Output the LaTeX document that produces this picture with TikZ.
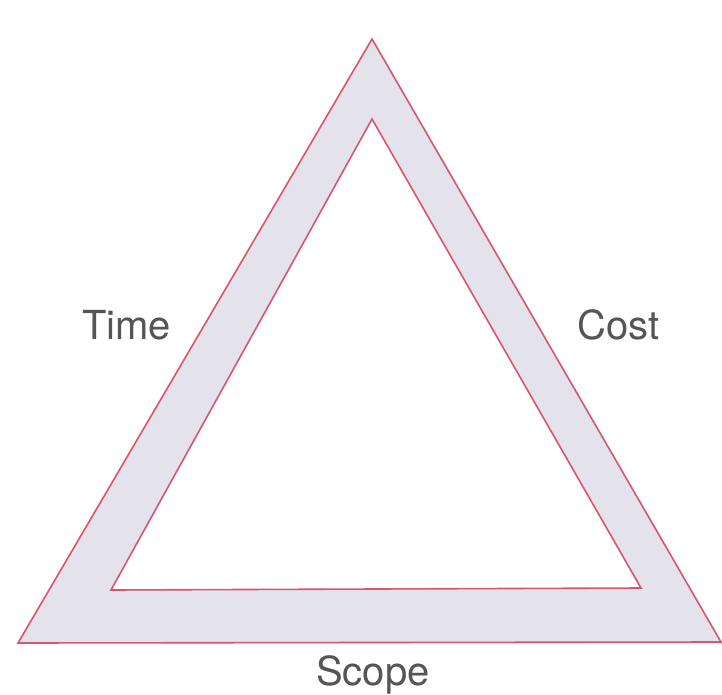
\documentclass[tikz,border=0pt]{standalone}
\usepackage{fontspec}
\setmainfont{TeX Gyre Heros}
\definecolor{band}{HTML}{E4E3EC}
\definecolor{edge}{HTML}{D9546E}
\definecolor{txt}{HTML}{555555}
\begin{document}
\begin{tikzpicture}[x=1pt,y=-1pt,
  lbl/.style={text=txt,font=\fontsize{40}{44}\selectfont,inner sep=0pt}]
\useasboundingbox (0,0) rectangle (722,695);
\coordinate (oa) at (372,39);
\coordinate (ol) at (18,643);
\coordinate (or) at (721,642);
\coordinate (ia) at (372,119);
\coordinate (il) at (111,590);
\coordinate (ir) at (641,588);
\fill[band,even odd rule] (oa) -- (ol) -- (or) -- cycle (ia) -- (il) -- (ir) -- cycle;
\draw[edge,line width=1.6pt,line join=miter] (oa) -- (ol) -- (or) -- cycle;
\draw[edge,line width=1.6pt,line join=miter] (ia) -- (il) -- (ir) -- cycle;
\node[lbl,anchor=base west] (time) at (82,339) {Time};
\node[lbl,anchor=base west] (cost) at (577,339) {Cost};
\node[lbl,anchor=base] (scope) at (373,685) {Scope};
\end{tikzpicture}
\end{document}
